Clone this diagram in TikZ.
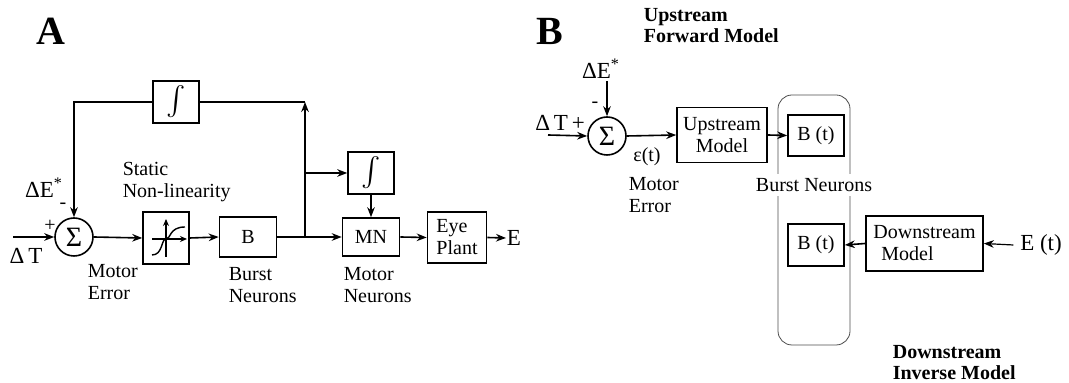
\documentclass[tikz,border=0pt]{standalone}
\usepackage{fontspec}
\setmainfont{Liberation Serif}
\usetikzlibrary{arrows.meta}
\begin{document}
\begin{tikzpicture}[x=0.5pt,y=-0.5pt,
  line width=0.8pt,
  arr/.style={-{Stealth[length=5pt,width=3.8pt]}},
  blk/.style={draw,rectangle,inner sep=0pt,align=center,font=\fontsize{10}{11}\selectfont},
  sumnode/.style={draw,circle,minimum size=19pt,inner sep=0pt,font=\fontsize{14}{14}\selectfont},
  lbl/.style={inner sep=0pt,font=\fontsize{10}{11}\selectfont},
  biglbl/.style={inner sep=0pt,font=\fontsize{11.5}{12}\selectfont},
  captxt/.style={inner sep=0pt,anchor=north west,align=left,font=\fontsize{10}{11}\selectfont},
  bcaptxt/.style={inner sep=0pt,anchor=north west,align=left,font=\bfseries\fontsize{10}{10.5}\selectfont},
  panel/.style={inner sep=0pt,font=\bfseries\fontsize{20}{20}\selectfont},
  intg/.style={blk,minimum width=23pt,minimum height=21pt}
]
\useasboundingbox (0,0) rectangle (1069,383);

% ---------- Panel A ----------
\node[panel] (labA) at (51,31) {A};
\node[sumnode] (sA) at (74,237) {Σ};
\node[blk,minimum width=23pt,minimum height=26pt] (nl) at (166,238) {};
\node[blk,minimum width=28.5pt,minimum height=20pt] (bA) at (248,237) {B};
\node[blk,minimum width=28.5pt,minimum height=19pt] (mn) at (371,237) {MN};
\node[blk,minimum width=29.5pt,minimum height=25.5pt,align=left] (eye) at (457,237.5) {Eye\\Plant};
\node[biglbl,anchor=west] (eA) at (506,238) {E};
\node[intg] (int1) at (176,102) {\scalebox{1.45}{$\int$}};
\node[intg] (int2) at (371,173) {\scalebox{1.45}{$\int$}};

\coordinate (inA) at (13,237);
\coordinate (brA) at (305,237);
\coordinate (topA) at (305,102);
\coordinate (brB) at (305,173);

% nonlinearity glyph
\draw[line width=0.7pt,-{Stealth[length=3.5pt,width=3pt]}] (152,239) -- (187,239);
\draw[line width=0.7pt,-{Stealth[length=3.5pt,width=3pt]}] (166,257) -- (166,219);
\draw[line width=0.7pt] (152,255) .. controls (163,255) and (161,239) .. (166,239)
  .. controls (171,239) and (169,227) .. (185,227);

\draw[arr] (inA) -- (sA.west);
\draw[arr] (sA.east) -- (nl.west);
\draw[arr] (nl.east) -- (bA.west);
\draw (bA.east) -- (brA);
\draw[arr] (brA) -- (mn.west);
\draw[arr] (mn.east) -- (eye.west);
\draw[arr] (eye.east) -- (eA.west);
\draw[arr] (brA) -- (topA);
\draw (topA) -- (int1.east);
\draw[arr] (int1.west) -| (sA.north);
\draw[arr] (brB) -- (int2.west);
\draw[arr,line width=0.6pt] (int2.south) -- (mn.north);

\node[biglbl] (dEA) at (44,188) {ΔE\textsuperscript{*}};
\node[lbl] (mA) at (63,206) {-};
\node[lbl] (pA) at (50,226) {+};
\node[biglbl] (dTA) at (26,256) {Δ\,T};
\node[captxt] (stat) at (122,161) {Static\\Non-linearity};
\node[captxt] (meA) at (87,264) {Motor\\Error};
\node[captxt] (bnA) at (228,267) {Burst\\Neurons};
\node[captxt] (mnA) at (343,267) {Motor\\Neurons};

% ---------- Panel B ----------
\node[panel] (labB) at (550,31) {B};
\node[bcaptxt] (ufm) at (643,8) {Upstream\\Forward Model};
\node[bcaptxt] (dim) at (892,345) {Downstream\\Inverse Model};

\draw[line width=0.4pt,draw=black!70,rounded corners=7pt] (778,95) rectangle (850,345);

\node[sumnode] (sB) at (607,136) {Σ};
\node[biglbl] (dEB) at (601,69) {ΔE\textsuperscript{*}};
\node[lbl] (mB) at (595,105) {-};
\node[biglbl] (dTB) at (560,123) {Δ\,T\,+};
\coordinate (inB) at (548,135);
\node[blk,minimum width=45pt,minimum height=27.5pt] (um) at (722,135) {Upstream\\Model};
\node[blk,minimum width=28pt,minimum height=20.5pt] (bt1) at (816,135.5) {B (t)};
\node[blk,minimum width=28pt,minimum height=21pt] (bt2) at (816,245) {B (t)};
\node[blk,minimum width=58.5pt,minimum height=27.5pt,align=left] (dm) at (924.5,243.5) {Downstream\\\hspace*{4pt}Model};
\node[biglbl] (et) at (1041,245) {E (t)};
\node[lbl] (eps) at (647,157) {ε(t)};
\node[captxt] (meB) at (628,177) {Motor\\Error};
\node[lbl,fill=white,inner xsep=1pt,inner ysep=2pt] (bnB) at (814,185) {Burst Neurons};

\draw[arr] (inB) -- (sB.west);
\draw[arr,line width=0.6pt] (sB |- dEB.south) ++(0,2) -- (sB.north);
\draw[arr] (sB.east) -- (um.west);
\draw[arr] (um.east) -- (bt1.west);
\draw[arr,line width=0.6pt] (et.west) ++(-6,0) -- (dm.east);
\draw[arr] (dm.west) -- (bt2.east);
\end{tikzpicture}
\end{document}
